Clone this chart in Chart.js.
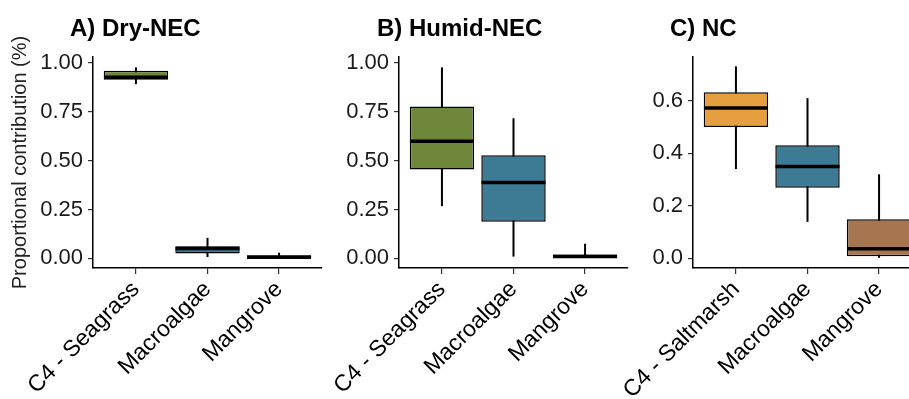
<!DOCTYPE html>
<html><head><meta charset="utf-8">
<script src="https://cdn.jsdelivr.net/npm/chart.js@4/dist/chart.umd.min.js"></script>
<style>
html,body{margin:0;padding:0;background:#fff;width:909px;height:399px;overflow:hidden;position:relative;font-family:"Liberation Sans",Arial,sans-serif}
.pan{position:absolute;top:0;width:330px;height:399px}
.ttl{position:absolute;top:14px;font-weight:bold;font-size:24px;line-height:28px;color:#000;white-space:nowrap}
</style></head><body>
<div class="pan" style="left:0px"><canvas id="cA"></canvas></div>
<div class="pan" style="left:306px"><canvas id="cB"></canvas></div>
<div class="pan" style="left:600px"><canvas id="cC"></canvas></div>
<div class="ttl" style="left:70px">A) Dry-NEC</div>
<div class="ttl" style="left:377px">B) Humid-NEC</div>
<div class="ttl" style="left:670px">C) NC</div>
<script>
// ---- data ----
const catsA = ['C4 - Seagrass', 'Macroalgae', 'Mangrove'];
const catsB = ['C4 - Seagrass', 'Macroalgae', 'Mangrove'];
const catsC = ['C4 - Saltmarsh', 'Macroalgae', 'Mangrove'];

const minA = [0.89, 0.007, 0.0];
const q1A  = [0.913, 0.025, 0.0];
const medA = [0.925, 0.05, 0.006];
const q3A  = [0.959, 0.062, 0.016];
const maxA = [0.976, 0.105, 0.029];

const minB = [0.267, 0.009, 0.0];
const q1B  = [0.454, 0.187, 0.0];
const medB = [0.599, 0.388, 0.01];
const q3B  = [0.776, 0.527, 0.02];
const maxB = [0.976, 0.716, 0.075];

const minC = [0.34, 0.139, 0.0];
const q1C  = [0.50, 0.269, 0.008];
const medC = [0.572, 0.350, 0.037];
const q3C  = [0.632, 0.431, 0.149];
const maxC = [0.731, 0.61, 0.32];

const colorsA = ['#6E873A', '#3D7A94', '#000000'];
const colorsB = ['#6E873A', '#3D7A94', '#000000'];
const colorsC = ['#E69F3F', '#3D7A94', '#A57650'];

const yTicksAB = [0, 0.25, 0.5, 0.75, 1.0];
const yTickLabelsAB = ['0.00', '0.25', '0.50', '0.75', '1.00'];
const yTicksC = [0, 0.2, 0.4, 0.6];
const yTickLabelsC = ['0.0', '0.2', '0.4', '0.6'];

const yTitle = 'Proportional contribution (%)';

Chart.defaults.font.family = '"Liberation Sans", Arial, sans-serif';
Chart.defaults.color = '#1a1a1a';

function makePanel(id, cats, mins, q1s, meds, q3s, maxs, colors, yTicks, yLabels, yMin, yMax, showTitle) {
  const idx = cats.map((_, i) => i);
  new Chart(document.getElementById(id), {
    type: 'bar',
    data: {
      datasets: [
        {
          type: 'scatter',
          data: idx.map(i => ({x: i, y: meds[i]})),
          pointStyle: 'line',
          pointRadius: 32,
          pointHoverRadius: 32,
          pointBorderWidth: 3.5,
          borderColor: '#000',
          backgroundColor: '#000',
          order: 1
        },
        {
          type: 'bar',
          data: idx.map(i => ({x: i, y: [q1s[i], q3s[i]]})),
          backgroundColor: colors,
          borderColor: '#000',
          borderWidth: 1.5,
          borderSkipped: false,
          grouped: false,
          categoryPercentage: 1,
          barPercentage: 0.9,
          order: 2
        },
        {
          type: 'bar',
          data: idx.map(i => ({x: i, y: [mins[i], maxs[i]]})),
          backgroundColor: '#000',
          borderWidth: 0,
          grouped: false,
          categoryPercentage: 1,
          barPercentage: 0.03,
          maxBarThickness: 2,
          order: 3
        }
      ]
    },
    options: {
      responsive: true,
      maintainAspectRatio: false,
      animation: false,
      events: [],
      layout: {autoPadding: false, padding: {left: 0, top: 57, right: 8, bottom: 0}},
      plugins: {legend: {display: false}, tooltip: {enabled: false}, title: {display: false}},
      scales: {
        x: {
          type: 'linear',
          min: -0.6,
          max: 2.6,
          offset: false,
          afterBuildTicks: s => { s.ticks = idx.map(v => ({value: v})); },
          afterFit: s => { s.height = 131; s.paddingLeft = 0; s.paddingRight = 0; },
          grid: {display: true, offset: false, drawOnChartArea: false, drawTicks: true, tickLength: 6, color: '#333', lineWidth: 1.2},
          border: {display: true, color: '#000', width: 1.5},
          ticks: {
            autoSkip: false,
            minRotation: 45,
            maxRotation: 45,
            padding: 2,
            color: '#000',
            font: {size: 23},
            callback: v => cats[v]
          }
        },
        y: {
          type: 'linear',
          min: yMin,
          max: yMax,
          afterBuildTicks: s => { s.ticks = yTicks.map(v => ({value: v})); },
          afterFit: s => { s.width = 93; },
          grid: {display: true, drawOnChartArea: false, drawTicks: true, tickLength: 5, color: '#333', lineWidth: 1.2},
          border: {display: true, color: '#000', width: 1.5},
          ticks: {
            padding: 5,
            color: '#1a1a1a',
            font: {size: 22},
            callback: v => { const k = yTicks.indexOf(v); return k >= 0 ? yLabels[k] : ''; }
          },
          title: {
            display: showTitle,
            text: yTitle,
            color: '#222',
            font: {size: 20},
            padding: {top: 8, bottom: 0}
          }
        }
      }
    }
  });
}

makePanel('cA', catsA, minA, q1A, medA, q3A, maxA, colorsA, yTicksAB, yTickLabelsAB, -0.049, 1.029, true);
makePanel('cB', catsB, minB, q1B, medB, q3B, maxB, colorsB, yTicksAB, yTickLabelsAB, -0.049, 1.029, false);
makePanel('cC', catsC, minC, q1C, medC, q3C, maxC, colorsC, yTicksC, yTickLabelsC, -0.0365, 0.7665, false);
</script>
</body></html>
